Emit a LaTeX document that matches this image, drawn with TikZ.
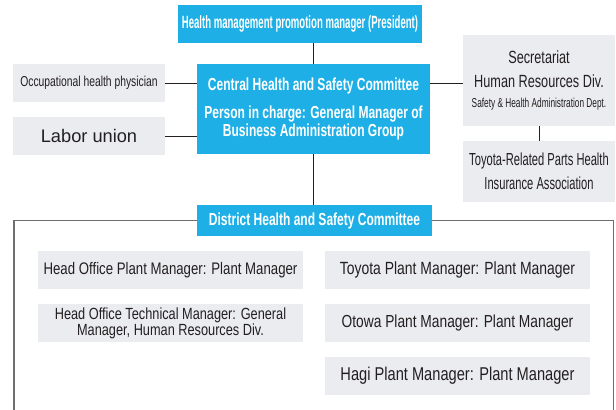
\documentclass[tikz,border=0pt]{standalone}
\usepackage{fontspec}
\setmainfont{Liberation Sans}
\newfontfamily\boldcond{Liberation Sans Bold}[FakeStretch=0.69]
\newfontfamily\boldnarrow{Liberation Sans Bold}[FakeStretch=0.54]
\newfontfamily\cond{Liberation Sans}[FakeStretch=0.79]
\newfontfamily\semicond{Liberation Sans}[FakeStretch=0.72]
\newfontfamily\narrow{Liberation Sans}[FakeStretch=0.64]
\usepackage{tikz}
\definecolor{hsblue}{RGB}{29,175,230}
\definecolor{hsgray}{RGB}{235,236,240}
\definecolor{hsframe}{RGB}{110,110,110}
\definecolor{hstext}{RGB}{35,31,32}

\begin{document}
\begin{tikzpicture}[
  bluebox/.style={fill=hsblue,text=white,inner sep=0pt,align=center},
  graybox/.style={fill=hsgray,text=hstext,inner sep=0pt,align=center},
  link/.style={line width=1bp,draw=hstext},
  frame/.style={line width=1.5bp,draw=hsframe}]

\useasboundingbox (0bp,0bp) rectangle (616bp,-410bp);

\node (Pres) at (300bp,-23.8bp)[bluebox,minimum width=244bp,minimum height=37.5bp,font=\boldnarrow\fontsize{17.8}{20}\selectfont] {Health management promotion manager (President)};
\node (Central) at (313.5bp,-109bp)[bluebox,minimum width=233bp,minimum height=90bp,font=\boldcond\fontsize{17.5}{16}\selectfont] {Central Health and Safety Committee\\[11bp]Person in charge: General Manager of\\Business Administration Group};
\node (Physician) at (89bp,-83bp)[graybox,minimum width=152bp,minimum height=38bp,font=\semicond\fontsize{14.4}{16}\selectfont] {Occupational health physician};
\node (Union) at (89bp,-136bp)[graybox,minimum width=152bp,minimum height=38bp,font=\fontsize{18.3}{20}\selectfont] {Labor union};
\node (Secretariat) at (539bp,-80.5bp)[graybox,minimum width=152bp,minimum height=91bp,font=\semicond\fontsize{17.7}{24}\selectfont] {Secretariat\\Human Resources Div.\\[-4bp]{\narrow\fontsize{13}{20}\selectfont Safety \& Health Administration Dept.}};
\node (Insurance) at (539bp,-171.5bp)[graybox,minimum width=152bp,minimum height=61bp,font=\narrow\fontsize{17.5}{24}\selectfont] {Toyota-Related Parts Health\\Insurance Association};
\node (District) at (314.5bp,-220.5bp)[bluebox,minimum width=235bp,minimum height=31bp,font=\boldcond\fontsize{17.5}{20}\selectfont] {District Health and Safety Committee};

\node (HeadPlant) at (170.5bp,-270bp)[graybox,minimum width=265bp,minimum height=38bp,font=\cond\fontsize{16.8}{20}\selectfont] {Head Office Plant Manager: Plant Manager};
\node (HeadTech) at (170.5bp,-323bp)[graybox,minimum width=265bp,minimum height=38bp,font=\cond\fontsize{16.2}{14}\selectfont] {Head Office Technical Manager: General\\Manager, Human Resources Div.};
\node (Toyota) at (457.5bp,-270bp)[graybox,minimum width=265bp,minimum height=38bp,font=\cond\fontsize{17.7}{20}\selectfont] {Toyota Plant Manager: Plant Manager};
\node (Otowa) at (457.5bp,-323bp)[graybox,minimum width=265bp,minimum height=38bp,font=\cond\fontsize{17.5}{20}\selectfont] {Otowa Plant Manager: Plant Manager};
\node (Hagi) at (457.5bp,-376bp)[graybox,minimum width=265bp,minimum height=38bp,font=\cond\fontsize{18.6}{20}\selectfont] {Hagi Plant Manager: Plant Manager};

\coordinate (FrameL) at (14bp,-430bp);
\coordinate (FrameR) at (613.5bp,-430bp);

\draw [link] (Central.north) -- (Central.north |- Pres.south);
\draw [link] (Central.south) -- (Central.south |- District.north);
\draw [link] (Physician.east) -- (Physician.east -| Central.west);
\draw [link] (Union.east) -- (Union.east -| Central.west);
\draw [link] (Central.east |- Physician.east) -- (Secretariat.west |- Physician.east);
\draw [link] (Secretariat.south) -- (Insurance.north);
\draw [frame] (District.west) -| (FrameL);
\draw [frame] (District.east) -| (FrameR);
\end{tikzpicture}
\end{document}
